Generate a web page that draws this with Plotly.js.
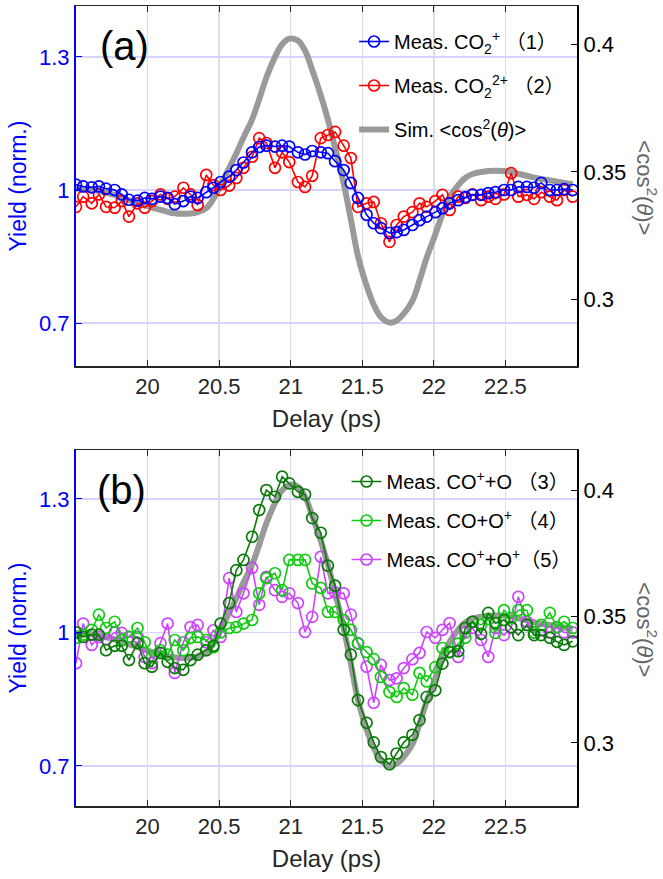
<!DOCTYPE html>
<html>
<head>
<meta charset="utf-8">
<script src="https://cdn.plot.ly/plotly-3.0.1.min.js"></script>
<style>
html,body{margin:0;padding:0;background:#fff;}
#chart{width:663px;height:879px;}
</style>
</head>
<body>
<div id="chart"></div>
<script>
// Delay grid (ps)
const delay = [19.50,19.55,19.61,19.66,19.71,19.77,19.82,19.87,19.93,19.98,20.03,20.09,20.14,20.19,20.25,20.30,20.35,20.41,20.46,20.51,20.57,20.62,20.67,20.73,20.78,20.83,20.89,20.94,20.99,21.05,21.10,21.15,21.21,21.26,21.31,21.37,21.42,21.47,21.53,21.58,21.63,21.69,21.74,21.79,21.85,21.90,21.95,22.01,22.06,22.11,22.17,22.22,22.27,22.33,22.38,22.43,22.49,22.54,22.59,22.65,22.70,22.75,22.81,22.86,22.91,22.97];

// Simulated <cos^2(theta)> (right axis)
const simCos2 = [0.3435,0.3433,0.3430,0.3425,0.3418,0.3410,0.3400,0.3390,0.3380,0.3370,0.3360,0.3352,0.3344,0.3338,0.3336,0.3337,0.3343,0.3358,0.3395,0.3450,0.3515,0.3572,0.3635,0.3705,0.3785,0.3870,0.3950,0.4000,0.4022,0.4015,0.3975,0.3900,0.3800,0.3705,0.3595,0.3455,0.3315,0.3170,0.3055,0.2980,0.2932,0.2910,0.2918,0.2945,0.2995,0.3075,0.3165,0.3255,0.3335,0.3400,0.3448,0.3477,0.3492,0.3500,0.3504,0.3505,0.3504,0.3500,0.3493,0.3485,0.3478,0.3472,0.3467,0.3462,0.3457,0.3452];

// Panel (a) yields
const co2p = [1.012,1.008,1.006,1.008,1.003,1.000,0.990,0.978,0.976,0.982,0.980,0.985,0.982,0.968,0.975,0.985,0.982,0.995,1.005,1.018,1.030,1.045,1.062,1.085,1.097,1.100,1.098,1.100,1.098,1.085,1.080,1.088,1.085,1.083,1.065,1.045,1.016,0.982,0.944,0.925,0.914,0.903,0.905,0.910,0.921,0.932,0.940,0.950,0.959,0.970,0.977,0.984,0.989,0.989,0.993,0.995,1.000,1.000,1.007,1.007,1.005,1.016,1.000,1.000,1.002,1.000];
const co2pp = [0.962,0.985,0.970,0.990,0.962,0.960,0.975,0.940,0.970,0.960,0.975,0.990,0.980,0.985,1.005,0.990,0.966,1.034,1.011,1.000,1.010,1.027,1.050,1.075,1.117,1.106,1.050,1.085,1.063,1.018,1.007,1.032,1.117,1.124,1.131,1.100,1.072,0.962,0.970,0.973,0.925,0.883,0.921,0.940,0.950,0.970,0.962,0.975,0.989,0.955,0.985,0.982,0.990,0.977,0.985,0.980,0.990,1.038,0.985,0.989,0.980,0.995,0.985,0.977,1.000,0.985];

// Panel (b) yields
const coO = [1.000,0.990,0.995,0.995,0.960,0.970,0.970,0.938,0.976,0.931,0.923,0.954,0.934,0.920,0.916,0.938,0.950,0.960,0.970,1.020,1.066,1.140,1.163,1.215,1.275,1.320,1.305,1.350,1.335,1.316,1.310,1.257,1.224,1.150,1.105,1.006,0.950,0.848,0.797,0.753,0.720,0.704,0.728,0.753,0.770,0.803,0.855,0.870,0.930,0.956,0.958,1.010,1.024,0.997,1.044,1.021,1.028,1.012,0.994,1.017,0.994,0.994,0.988,0.979,0.972,0.980];
const coOp = [0.988,0.995,1.006,1.040,1.010,1.024,0.983,0.990,1.010,0.978,0.945,0.960,0.950,0.983,0.960,0.988,0.990,0.983,0.967,1.000,1.010,1.012,1.020,1.028,1.088,1.122,1.133,1.095,1.163,1.163,1.163,1.110,1.100,1.046,1.046,1.028,1.006,0.976,0.956,0.940,0.900,0.866,0.855,0.875,0.860,0.909,0.890,0.922,0.965,0.956,0.975,0.988,1.024,1.017,1.030,0.999,1.050,1.032,1.050,1.050,1.000,1.017,1.044,1.012,1.024,1.010];
const copOp = [0.931,1.020,0.972,0.990,0.985,1.000,0.999,0.990,0.990,0.945,0.931,0.976,1.020,0.909,0.978,1.012,1.017,0.978,1.005,0.990,1.122,1.046,1.088,1.145,1.062,1.125,1.095,1.080,1.088,1.066,1.001,1.035,1.170,1.088,1.090,1.088,1.040,0.975,0.923,0.842,0.927,0.893,0.897,0.920,0.940,0.954,1.001,0.988,1.006,1.021,0.945,1.000,1.010,0.983,0.945,1.010,0.994,1.010,1.080,1.024,1.000,1.005,1.000,1.012,1.000,1.000];

// Labels
const legendA = ['Meas. CO<sub>2</sub><sup>+</sup> （1）','Meas. CO<sub>2</sub><sup>2+</sup> （2）','Sim. &lt;cos<sup>2</sup>(<i>θ</i>)&gt;'];
const legendB = ['Meas. CO<sup>+</sup>+O （3）','Meas. CO+O<sup>+</sup> （4）','Meas. CO<sup>+</sup>+O<sup>+</sup>（5）'];
const xTicks = [20,20.5,21,21.5,22,22.5];
const yieldTicks = [0.7,1,1.3];
const cosTicks = [0.3,0.35,0.4];

const FONT = 'Liberation Sans, Arial, Noto Sans CJK SC, sans-serif';
const mk = (c) => ({symbol:'circle-open', size:11, color:c, line:{width:1.7, color:c}});

const traces = [
  {x:delay, y:simCos2, xaxis:'x', yaxis:'y', mode:'lines', line:{color:'#9a9a9a', width:6, shape:'spline'}, name:legendA[2], legend:'legend', legendgroup:'a3', legendrank:3},
  {x:delay, y:co2pp, xaxis:'x', yaxis:'y2', mode:'lines+markers', line:{color:'#ff0000', width:1.6}, marker:mk('#ff0000'), name:legendA[1], legend:'legend', legendgroup:'a2', legendrank:2},
  {x:delay, y:co2p, xaxis:'x', yaxis:'y2', mode:'lines+markers', line:{color:'#0000ff', width:1.6}, marker:mk('#0000ff'), name:legendA[0], legend:'legend', legendgroup:'a1', legendrank:1},
  {x:delay, y:simCos2, xaxis:'x2', yaxis:'y3', mode:'lines', line:{color:'#9a9a9a', width:6, shape:'spline'}, showlegend:false},
  {x:delay, y:copOp, xaxis:'x2', yaxis:'y4', mode:'lines+markers', line:{color:'#cc44ff', width:1.6}, marker:mk('#cc44ff'), name:legendB[2], legend:'legend2', legendgroup:'b3', legendrank:3},
  {x:delay, y:coOp, xaxis:'x2', yaxis:'y4', mode:'lines+markers', line:{color:'#11cc11', width:1.6}, marker:mk('#11cc11'), name:legendB[1], legend:'legend2', legendgroup:'b2', legendrank:2},
  {x:delay, y:coO, xaxis:'x2', yaxis:'y4', mode:'lines+markers', line:{color:'#0a7a0a', width:1.6}, marker:mk('#0a7a0a'), name:legendB[0], legend:'legend2', legendgroup:'b1', legendrank:1}
];

const xax = (anchor) => ({
  domain:[0,1], range:[19.5,23.0], anchor:anchor,
  tickmode:'array', tickvals:xTicks, ticks:'inside', ticklen:6, tickcolor:'#262626', tickwidth:1,
  showline:true, linecolor:'#262626', linewidth:1.5, mirror:'ticks',
  showgrid:true, gridcolor:'#dedede', gridwidth:1.5, zeroline:false,
  tickfont:{family:FONT, size:22, color:'#262626'},
  title:{text:'Delay (ps)', font:{family:FONT, size:24, color:'#262626'}, standoff:12}
});
const cosAx = (dom, rng, anchor) => ({
  domain:dom, range:rng, anchor:anchor, side:'right',
  tickmode:'array', tickvals:cosTicks, ticktext:['0.3','0.35','0.4'], ticks:'inside', ticklen:6, tickcolor:'#000',
  showline:true, linecolor:'#000', linewidth:2, showgrid:false, zeroline:false,
  tickfont:{family:FONT, size:22, color:'#000'}
});
const yieldAx = (over, rng, anchor) => ({
  overlaying:over, range:rng, anchor:anchor, side:'left',
  tickmode:'array', tickvals:yieldTicks, ticktext:['0.7','1','1.3'], ticks:'inside', ticklen:6, tickcolor:'#0000ff',
  showline:true, linecolor:'#0000ff', linewidth:2, showgrid:true, gridcolor:'#d4d4ff', gridwidth:1.5, zeroline:false,
  tickfont:{family:FONT, size:22, color:'#0000ff'},
  title:{text:'Yield (norm.)', font:{family:FONT, size:23, color:'#0000ff'}, standoff:6}
});

const legendStyle = (x, y, gap) => ({
  x:x, y:y, xanchor:'left', yanchor:'top', bgcolor:'rgba(0,0,0,0)', borderwidth:0,
  font:{family:FONT, size:20, color:'#000'}, traceorder:'grouped', tracegroupgap:gap, itemwidth:30
});

const layout = {
  width:663, height:879,
  margin:{l:76, r:86, t:6, b:73},
  paper_bgcolor:'#fff', plot_bgcolor:'#fff',
  showlegend:true,
  xaxis: xax('y'),
  yaxis: cosAx([0.55,1], [0.274,0.415], 'x'),
  yaxis2: yieldAx('y', [0.603,1.415], 'x'),
  xaxis2: xax('y3'),
  yaxis3: cosAx([0,0.445], [0.275,0.416], 'x2'),
  yaxis4: yieldAx('y3', [0.61,1.41], 'x2'),
  legend: legendStyle(0.555, 0.98, 15),
  legend2: legendStyle(0.54, 0.43, 10),
  annotations:[
    {text:'(a)', xref:'paper', yref:'paper', x:0.096, y:0.95, xanchor:'center', yanchor:'middle', showarrow:false, font:{family:FONT, size:40, color:'#000'}},
    {text:'(b)', xref:'paper', yref:'paper', x:0.09, y:0.395, xanchor:'center', yanchor:'middle', showarrow:false, font:{family:FONT, size:40, color:'#000'}},
    {text:'&lt;cos<sup>2</sup>(<i>θ</i>)&gt;', xref:'paper', yref:'paper', x:1.139, y:0.7725, xanchor:'center', yanchor:'middle', textangle:90, showarrow:false, font:{family:FONT, size:22, color:'#666666'}},
    {text:'&lt;cos<sup>2</sup>(<i>θ</i>)&gt;', xref:'paper', yref:'paper', x:1.139, y:0.22, xanchor:'center', yanchor:'middle', textangle:90, showarrow:false, font:{family:FONT, size:22, color:'#666666'}}
  ]
};

Plotly.newPlot('chart', traces, layout, {displayModeBar:false, staticPlot:true});
</script>
</body>
</html>
